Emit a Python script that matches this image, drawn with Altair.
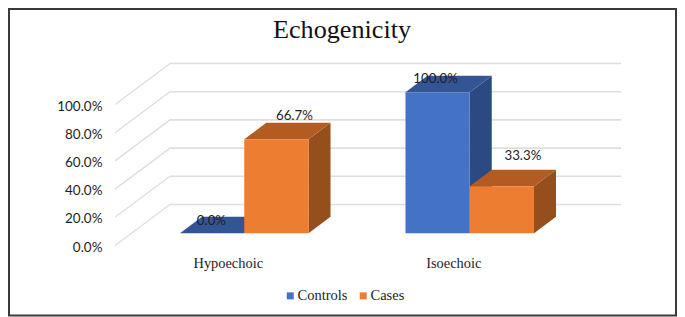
import altair as alt
import pandas as pd

# ---- chart values ----
categories = ["Hypoechoic", "Isoechoic"]
controls = [0.0, 1.0]
cases = [0.667, 0.333]
series_names = ["Controls", "Cases"]
y_ticks = [0.0, 0.2, 0.4, 0.6, 0.8, 1.0]

# ---- styling and layout ----
front_colors = ["#4472C4", "#ED7D31"]
top_colors = ["#335593", "#B35B21"]
side_colors = ["#2B4A84", "#964F1C"]
GRID = "#DEDEDE"
TEXT = "#1E1E1E"
SERIF = "Liberation Serif"
SANS = "Lato"

W, H = 451, 141               # front plane of the 3-D box, in pixels
PAD = dict(left=107, top=96.5, right=111, bottom=71.5)
KX = 55 / (W / 2)             # floor depth expressed in category units
KY = 41 / H                   # floor depth expressed in value units
D0, D1 = 0.3, 0.7             # bars occupy this slice of the floor depth
BAR_W = 0.285
MARGIN = (1 - 2 * BAR_W) / 2
# label nudges in pixels from the bar's front-top centre (as placed in the source)
label_nudge = {
    ("Controls", 0): (-0.7, -12.5), ("Cases", 0): (18, -23.2),
    ("Controls", 1): (-2, -13.5), ("Cases", 1): (21, -30.5),
}

xs = alt.Scale(domain=[0, 2], nice=False, zero=False)
ys = alt.Scale(domain=[0, 1], nice=False, zero=False)
x_axis = alt.Axis(
    values=[0.5, 1.5], domain=False, ticks=False, grid=False, title=None,
    labelExpr=f"{categories}[floor(datum.value)]",
    labelFont=SERIF, labelFontSize=14.4, labelColor=TEXT, labelPadding=11,
)
y_axis = alt.Axis(
    values=y_ticks, format=".1%", domain=False, ticks=False, grid=False, title=None,
    labelFont=SANS, labelFontSize=13.5, labelColor=TEXT, labelPadding=13, labelOffset=1.5,
)
X = lambda f: alt.X(f, type="quantitative", scale=xs, axis=x_axis)
Y = lambda f: alt.Y(f, type="quantitative", scale=ys, axis=y_axis)
X2 = lambda f: alt.X2(f)
Y2 = lambda f: alt.Y2(f)

# ---- wall grid ----
wall = pd.DataFrame([{"v": v, "x": KX, "x2": 2 + KX, "y": v + KY} for v in y_ticks])
side_grid = pd.DataFrame(
    [{"v": v, "x": d * KX, "y": v + d * KY} for v in y_ticks for d in (0, 1)]
)

base = (
    alt.Chart(wall)
    .mark_rule(color=GRID, strokeWidth=1.6)
    .encode(x=X("x"), x2=X2("x2"), y=Y("y"))
)
diag = (
    alt.Chart(side_grid)
    .mark_line(color=GRID, strokeWidth=1.4)
    .encode(x=X("x"), y=Y("y"), detail="v:N")
)
layers = [base, diag]

# ---- bars ----
label_rows = []
for s, (name, vals) in enumerate(zip(series_names, (controls, cases))):
    side_rows, top_rows, front_rows = [], [], []
    for i, v in enumerate(vals):
        left = i + MARGIN + s * BAR_W
        right = left + BAR_W
        key = f"{name}{i}"
        for d in (D0, D1):
            side_rows.append({"k": key, "x": right + d * KX,
                              "y": v + d * KY, "y0": d * KY})
            top_rows.append({"k": key, "x": left + d * KX, "x2": right + d * KX,
                             "y": v + d * KY})
        front_rows.append({"series": name, "x": left + D0 * KX, "x2": right + D0 * KX,
                           "y": v + D0 * KY, "y0": D0 * KY})
        nx, ny = label_nudge[(name, i)]
        label_rows.append({
            "x": (left + right) / 2 + D0 * KX + nx / (W / 2),
            "y": v + D0 * KY - ny / H,
            "value": v,
        })
    layers.append(
        alt.Chart(pd.DataFrame(side_rows))
        .mark_area(color=side_colors[s], orient="vertical")
        .encode(x=X("x"), y=Y("y"), y2=Y2("y0"), detail="k:N")
    )
    layers.append(
        alt.Chart(pd.DataFrame(top_rows))
        .mark_area(color=top_colors[s], orient="horizontal")
        .encode(y=Y("y"), x=X("x"), x2=X2("x2"), detail="k:N")
    )
    layers.append(
        alt.Chart(pd.DataFrame(front_rows))
        .mark_rect()
        .encode(
            x=X("x"), x2=X2("x2"), y=Y("y"), y2=Y2("y0"),
            color=alt.Color(
                "series:N",
                scale=alt.Scale(domain=series_names, range=front_colors),
                legend=alt.Legend(
                    title=None, orient="none", legendX=168, legendY=184,
                    direction="horizontal", symbolType="square", symbolSize=49,
                    symbolStrokeWidth=0, labelFont=SERIF, labelFontSize=14.5,
                    labelColor=TEXT, labelOffset=0, columnPadding=8,
                ),
            ),
        )
    )

labels = (
    alt.Chart(pd.DataFrame(label_rows))
    .mark_text(font=SANS, fontSize=13.3, color=TEXT)
    .encode(x=X("x"), y=Y("y"), text=alt.Text("value:Q", format=".1%"))
)
layers.append(labels)

# ---- outer frame of the picture ----
frame = (
    alt.Chart(pd.DataFrame({"a": [0]}))
    .mark_rect(fillOpacity=0, stroke="#3A3A3A", strokeWidth=2)
    .encode(
        x=alt.value(-106), x2=alt.value(561),
        y=alt.value(-95.5), y2=alt.value(211),
    )
)
layers.append(frame)

chart = (
    alt.layer(*layers)
    .properties(
        width=W, height=H, padding=PAD,
        autosize=alt.AutoSizeParams(type="none"),
        title=alt.TitleParams(
            "Echogenicity", font=SERIF, fontSize=26.2, fontWeight="normal",
            color="#111111", anchor="middle", offset=-35, dx=1.5,
        ),
    )
    .configure_view(stroke=None)
)

chart.save("out.html", embed_options={"renderer": "svg", "actions": False})
